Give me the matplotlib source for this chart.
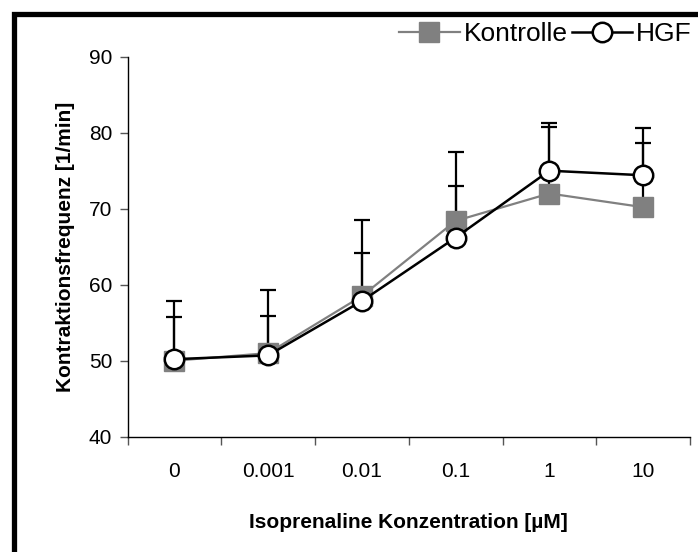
import matplotlib
matplotlib.use("Agg")
import matplotlib.pyplot as plt
from matplotlib.patches import Rectangle
import numpy as np

categories = ["0", "0.001", "0.01", "0.1", "1", "10"]
kontrolle = [50.0, 51.0, 58.5, 68.4, 72.0, 70.2]
kontrolle_upper = [55.7, 55.9, 64.2, 73.0, 80.8, 78.7]
hgf = [50.2, 50.7, 57.85, 66.2, 75.0, 74.4]
hgf_upper = [57.85, 59.3, 68.5, 77.5, 81.25, 80.6]

kontrolle_err = [u - m for u, m in zip(kontrolle_upper, kontrolle)]
hgf_err = [u - m for u, m in zip(hgf_upper, hgf)]

plt.rcParams['font.family'] = ['Liberation Sans', 'DejaVu Sans']

W, H = 698, 552
fig = plt.figure(figsize=(W / 100, H / 100), dpi=100)
ax = fig.add_axes([127.5 / W, 1 - 436.7 / H, (690 - 127.5) / W, (436.7 - 56.7) / H])

x = np.arange(len(categories))
zeros = [0] * len(x)

ax.errorbar(x, kontrolle, yerr=[zeros, kontrolle_err], fmt='none', ecolor='black',
            elinewidth=1.6, capsize=6, capthick=1.6, zorder=1)
ax.errorbar(x, hgf, yerr=[zeros, hgf_err], fmt='none', ecolor='black',
            elinewidth=1.6, capsize=6, capthick=1.6, zorder=1)

ax.plot(x, kontrolle, color='#808080', lw=1.6, marker='s', markersize=14,
        markerfacecolor='#808080', markeredgecolor='#808080', zorder=3, label='Kontrolle')
ax.plot(x, hgf, color='black', lw=1.8, marker='o', markersize=14,
        markerfacecolor='white', markeredgecolor='black', markeredgewidth=1.8,
        zorder=4, label='HGF')

ax.set_xlim(-0.5, len(categories) - 0.5)
ax.set_ylim(40, 90)
ax.set_yticks([40, 50, 60, 70, 80, 90])
ax.set_xticks(np.arange(-0.5, len(categories)), labels=[''] * (len(categories) + 1))
ax.set_xticks(x, labels=categories, minor=True)
ax.tick_params(axis='x', which='minor', length=0, pad=18, labelsize=15)
ax.tick_params(axis='x', which='major', length=6, width=1, color='#555555')
ax.tick_params(axis='y', length=6, width=1, color='#555555', pad=5, labelsize=15)

for s in ['top', 'right']:
    ax.spines[s].set_visible(False)
for s in ['left', 'bottom']:
    ax.spines[s].set_linewidth(1.0)
    ax.spines[s].set_color('black')

ax.set_xlabel('Isoprenaline Konzentration [µM]', fontsize=15, fontweight='bold', labelpad=23)
ax.set_ylabel('Kontraktionsfrequenz [1/min]', fontsize=15, fontweight='bold', labelpad=10)

leg = fig.legend(loc='center right', bbox_to_anchor=(692 / W, 1 - 34 / H), ncol=2,
                 frameon=False, fontsize=19, handlelength=2.3, handletextpad=0.15,
                 columnspacing=0.15, borderaxespad=0, borderpad=0)

fig.patches.append(Rectangle((13.5 / W, -0.1), 1.2, 1 - 13.5 / H + 0.1,
                             transform=fig.transFigure, fill=False, lw=3.8,
                             edgecolor='black', zorder=10))

fig.savefig('out.png', dpi=100)
